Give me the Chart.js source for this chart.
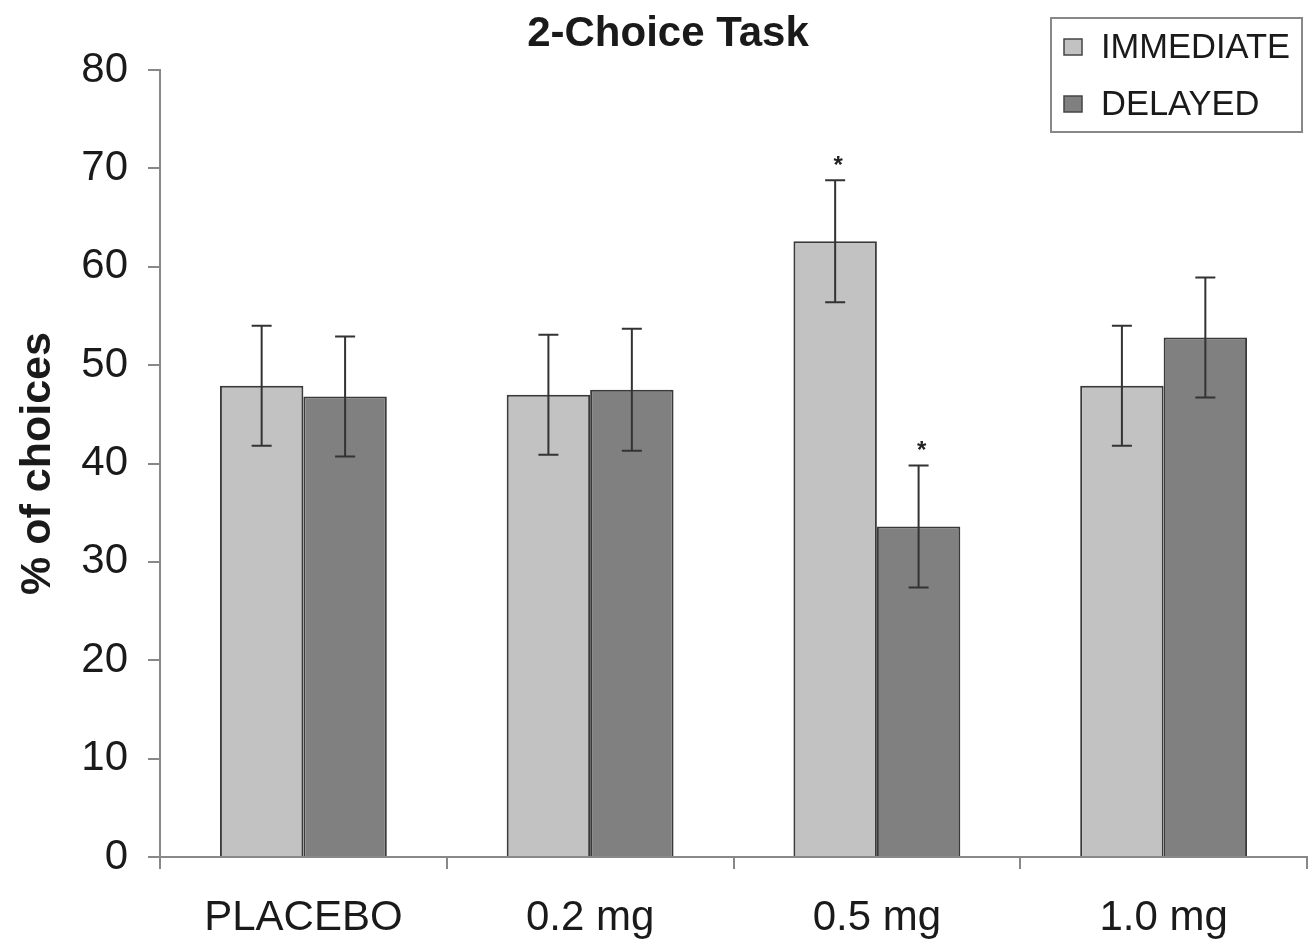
<!DOCTYPE html>
<html>
<head>
<meta charset="utf-8">
<script src="https://cdn.jsdelivr.net/npm/chart.js@4.4.0/dist/chart.umd.min.js"></script>
<style>
  body { margin: 0; background: #fff; }
  #wrap { width: 1316px; height: 946px; position: relative; }
</style>
</head>
<body>
<div id="wrap"><canvas id="choiceChart"></canvas></div>
<script>
// Daten
const categories = ['PLACEBO', '0.2 mg', '0.5 mg', '1.0 mg'];
const immediate = [47.9, 47.0, 62.6, 47.9];
const delayed = [46.8, 47.5, 33.6, 52.8];
const immediateErr = [6.1, 6.1, 6.2, 6.1];
const delayedErr = [6.1, 6.2, 6.2, 6.1];
const immediateSig = [false, false, true, false];
const delayedSig = [false, false, true, false];
const yTicks = [0, 10, 20, 30, 40, 50, 60, 70, 80];

const FONT = '"Liberation Sans", Arial, sans-serif';
const errors = [immediateErr, delayedErr];
const sig = [immediateSig, delayedSig];

// === Fehlerbalken + Sternchen ===
const errorBars = {
  id: 'errorBars',
  afterDatasetsDraw(chart) {
    const ctx = chart.ctx;
    const y = chart.scales.y;
    ctx.save();
    ctx.strokeStyle = '#333';
    ctx.lineWidth = 2;
    chart.data.datasets.forEach((ds, i) => {
      const meta = chart.getDatasetMeta(i);
      meta.data.forEach((bar, j) => {
        const v = ds.data[j];
        const e = errors[i][j];
        const top = y.getPixelForValue(v + e);
        const bot = y.getPixelForValue(v - e);
        const x = bar.x;
        ctx.beginPath();
        ctx.moveTo(x, top); ctx.lineTo(x, bot);
        ctx.moveTo(x - 10, top); ctx.lineTo(x + 10, top);
        ctx.moveTo(x - 10, bot); ctx.lineTo(x + 10, bot);
        ctx.stroke();
        if (sig[i][j]) {
          ctx.fillStyle = '#222';
          ctx.font = 'bold 24px ' + FONT;
          ctx.textAlign = 'center';
          ctx.textBaseline = 'middle';
          ctx.fillText('*', x + 3, top - 14);
        }
      });
    });
    ctx.restore();
  }
};

// === Titel + Legende ===
const deko = {
  id: 'deko',
  afterDraw(chart) {
    const ctx = chart.ctx;
    ctx.save();
    ctx.fillStyle = '#1a1a1a';
    ctx.font = 'bold 42px ' + FONT;
    ctx.textAlign = 'center';
    ctx.textBaseline = 'alphabetic';
    ctx.fillText('2-Choice Task', 668, 46);

    ctx.strokeStyle = '#888';
    ctx.lineWidth = 2;
    ctx.strokeRect(1051, 18, 251, 114);
    ctx.font = '34.5px ' + FONT;
    ctx.textAlign = 'left';
    ctx.textBaseline = 'middle';
    const rows = [47, 104];
    chart.data.datasets.forEach((ds, i) => {
      ctx.fillStyle = ds.backgroundColor;
      ctx.fillRect(1064, rows[i] - 8, 18, 16);
      ctx.strokeStyle = '#444';
      ctx.lineWidth = 1.5;
      ctx.strokeRect(1064, rows[i] - 8, 18, 16);
      ctx.fillStyle = '#1a1a1a';
      ctx.fillText(ds.label, 1101, rows[i] + 1);
    });
    ctx.restore();
  }
};

new Chart(document.getElementById('choiceChart'), {
  type: 'bar',
  data: {
    labels: categories,
    datasets: [
      {
        label: 'IMMEDIATE',
        data: immediate,
        backgroundColor: '#c2c2c2',
        borderColor: '#3a3a3a',
        borderWidth: 2
      },
      {
        label: 'DELAYED',
        data: delayed,
        backgroundColor: '#808080',
        borderColor: '#3a3a3a',
        borderWidth: 2
      }
    ]
  },
  options: {
    responsive: true,
    maintainAspectRatio: false,
    animation: false,
    layout: { padding: { top: 70, right: 9, left: 0, bottom: 0 } },
    datasets: {
      bar: { categoryPercentage: 0.582, barPercentage: 1.0 }
    },
    scales: {
      x: {
        afterFit: s => { s.height = 89; },
        grid: {
          display: true,
          drawOnChartArea: false,
          drawTicks: true,
          tickLength: 12,
          offset: true,
          color: '#888',
          lineWidth: 2
        },
        border: { display: true, color: '#888', width: 2 },
        ticks: {
          color: '#1a1a1a',
          padding: 24,
          font: { family: FONT, size: 42 }
        }
      },
      y: {
        min: 0,
        max: 80,
        afterFit: s => { s.width = 160; },
        afterBuildTicks: s => { s.ticks = yTicks.map(v => ({ value: v })); },
        grid: {
          display: true,
          drawOnChartArea: false,
          drawTicks: true,
          tickLength: 12,
          color: '#888',
          lineWidth: 2
        },
        border: { display: true, color: '#888', width: 2 },
        ticks: {
          color: '#1a1a1a',
          padding: 20,
          font: { family: FONT, size: 42 }
        },
        title: {
          display: true,
          text: '% of choices',
          color: '#1a1a1a',
          padding: { top: 12, bottom: 0 },
          font: { family: FONT, size: 43, weight: 'bold' }
        }
      }
    },
    plugins: {
      legend: { display: false },
      tooltip: { enabled: false },
      title: { display: false }
    }
  },
  plugins: [errorBars, deko]
});
</script>
</body>
</html>
